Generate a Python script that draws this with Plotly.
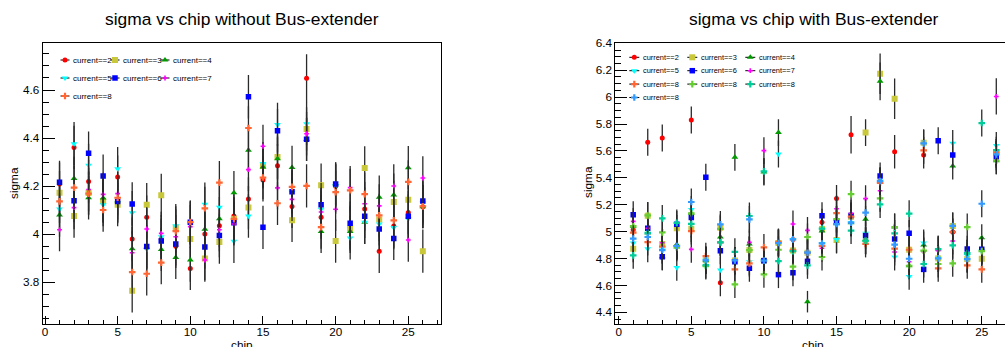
import plotly.graph_objects as go

W, H = 1005, 347
chips = list(range(1, 27))

# ---------------- left panel: without Bus-extender ----------------
left_c2 = [4.209, 4.361, 4.220, 4.140, 4.238, 3.980, 4.071, 3.980, 3.950, 3.858, 4.001, 4.036, 4.076,
           4.147, 4.226, 4.285, 4.116, 4.649, 4.071, 4.200, 4.030, 4.105, 3.929, 4.034, 4.091, 4.115]
left_c3 = [4.173, 4.076, 4.172, 4.138, 4.123, 3.765, 4.123, 4.162, 4.027, 3.980, 3.899, 3.968, 4.064,
           4.111, 4.284, 4.321, 4.058, 4.438, 4.204, 3.972, 4.023, 4.276, 4.062, 4.134, 4.144, 3.930]
left_c4 = [4.080, 4.232, 4.152, 4.151, 4.140, 3.940, 3.945, 3.937, 3.904, 3.893, 4.021, 4.065, 4.173,
           4.349, 4.280, 4.314, 4.278, 4.395, 4.012, 4.210, 4.012, 4.050, 4.154, 4.163, 4.277, 4.115]
left_c5 = [4.105, 4.377, 4.287, 4.123, 4.273, 4.090, 3.939, 3.990, 4.036, 4.045, 4.125, 4.112, 3.971,
           4.076, 4.294, 4.457, 4.175, 4.460, 4.104, 4.202, 3.985, 4.050, 4.043, 4.028, 4.064, 4.130]
left_c6 = [4.216, 4.140, 4.337, 4.242, 4.136, 4.126, 3.949, 3.972, 3.960, 4.050, 3.947, 3.995, 4.048,
           4.572, 4.029, 4.431, 4.177, 4.395, 4.123, 4.209, 4.046, 4.075, 4.022, 3.983, 4.075, 4.138]
left_c7 = [4.019, 4.111, 4.186, 4.166, 4.169, 3.923, 4.022, 4.004, 3.990, 4.032, 3.893, 4.019, 4.043,
           4.269, 4.366, 4.193, 4.145, 4.418, 4.093, 4.104, 4.194, 4.127, 4.118, 4.201, 3.976, 4.234]
left_c8 = [4.137, 4.194, 4.169, 4.101, 4.152, 3.843, 3.836, 3.882, 4.013, 4.051, 4.108, 4.215, 4.064,
           4.442, 4.236, 4.129, 4.197, 4.201, 4.030, 4.175, 4.183, 4.167, 4.079, 4.058, 4.218, 4.116]
left_err = 0.09
left_err_override = {("c2", 18): 0.10}

# ---------------- right panel: with Bus-extender ----------------
right_c2 = [5.013, 5.664, 5.696, 4.893, 5.830, 4.787, 4.620, 4.786, 4.863, 4.784, 4.915, 4.942, 4.843,
            5.069, 5.247, 5.720, 4.932, 5.376, 5.594, 4.865, 5.569, 4.801, 4.997, 4.796, 4.868, 5.574]
right_c3 = [4.872, 5.118, 4.907, 5.024, 5.022, 4.787, 5.029, 4.786, 4.863, 4.784, 4.915, 4.860, 4.843,
            5.020, 4.937, 5.111, 5.736, 6.174, 5.988, 4.865, 5.661, 4.801, 5.042, 4.796, 4.798, 5.589]
right_c4 = [5.040, 4.990, 4.813, 4.904, 5.136, 4.787, 4.960, 5.552, 4.908, 5.443, 5.736, 4.860, 4.479,
            5.005, 5.093, 5.066, 5.091, 6.117, 5.034, 4.746, 4.900, 4.870, 5.488, 4.838, 4.955, 5.527]
right_c5 = [4.916, 4.873, 4.863, 4.734, 5.165, 4.787, 4.714, 4.786, 4.776, 4.784, 5.577, 4.942, 4.845,
            4.912, 4.942, 5.066, 4.987, 5.376, 4.811, 4.667, 4.915, 4.801, 5.656, 4.820, 4.855, 5.641]
right_c6 = [5.125, 5.024, 4.813, 5.054, 5.104, 5.404, 4.858, 4.776, 4.727, 4.784, 4.680, 4.694, 4.779,
            5.118, 5.070, 5.120, 4.970, 5.413, 4.945, 4.987, 4.719, 5.676, 5.569, 4.870, 4.868, 5.557]
right_c7 = [5.076, 5.025, 4.917, 4.893, 4.868, 4.787, 4.920, 4.786, 4.920, 5.602, 4.915, 5.056, 5.009,
            4.876, 5.170, 5.136, 5.245, 5.304, 4.848, 4.776, 4.850, 4.858, 4.930, 4.840, 4.855, 6.005]
right_c8a = [4.993, 4.922, 4.888, 4.893, 5.004, 4.818, 4.920, 4.719, 4.764, 4.883, 4.923, 4.863, 4.843,
             4.893, 5.138, 5.111, 4.908, 5.363, 4.873, 4.865, 5.604, 4.727, 4.997, 4.749, 4.719, 5.589]
right_c8b = [5.040, 5.120, 4.994, 4.880, 5.136, 4.744, 5.020, 4.607, 4.863, 4.682, 4.865, 4.739, 4.960,
             4.811, 5.093, 5.279, 4.932, 5.247, 5.034, 4.746, 4.858, 4.759, 4.764, 5.034, 4.855, 5.527]
right_c8c = [4.823, 4.990, 5.098, 5.065, 5.057, 4.751, 4.920, 4.850, 5.116, 5.448, 4.781, 4.855, 4.749,
             5.022, 5.056, 5.007, 4.932, 5.202, 4.987, 5.133, 4.759, 4.870, 4.898, 4.840, 5.807, 5.606]
right_c8d = [4.948, 4.960, 4.863, 4.893, 5.220, 4.787, 5.054, 4.786, 5.091, 4.784, 4.915, 4.942, 4.843,
             4.912, 5.056, 5.066, 5.141, 5.376, 4.903, 4.798, 5.656, 4.801, 5.042, 4.796, 5.207, 5.574]
right_err = 0.10
right_err_override = {("c2", 16): 0.14, ("c2", 19): 0.125, ("c3", 18): 0.15, ("c3", 19): 0.15,
                      ("c4", 18): 0.14, ("c4", 13): 0.08, ("c7", 26): 0.135}

labels_left = ["current==2", "current==3", "current==4", "current==5", "current==6", "current==7",
               "current==8"]
labels_right = ["current==2", "current==3", "current==4", "current==5", "current==6", "current==7",
                "current==8", "current==8", "current==8", "current==8"]

STY = {
    "c2": dict(symbol="circle", color="#ff0000", size=5),
    "c3": dict(symbol="square", color="#c8c83a", size=6),
    "c4": dict(symbol="triangle-up", color="#009900", size=6),
    "c5": dict(symbol="triangle-down", color="#00ffff", size=6),
    "c6": dict(symbol="square", color="#0000ff", size=5.5),
    "c7": dict(symbol="cross", color="#ff00ff", size=4),
    "c8a": dict(symbol="cross", color="#ff6633", size=5.5),
    "c8b": dict(symbol="cross", color="#66cc33", size=5.5),
    "c8c": dict(symbol="cross", color="#00cc99", size=5.5),
    "c8d": dict(symbol="cross", color="#3399ff", size=5.5),
}

left_series = [("c2", left_c2), ("c3", left_c3), ("c4", left_c4), ("c5", left_c5),
               ("c6", left_c6), ("c7", left_c7), ("c8a", left_c8)]
right_series = [("c2", right_c2), ("c3", right_c3), ("c4", right_c4), ("c5", right_c5),
                ("c6", right_c6), ("c7", right_c7), ("c8a", right_c8a), ("c8b", right_c8b),
                ("c8c", right_c8c), ("c8d", right_c8d)]

FONT = "Liberation Sans, Arial, Helvetica, sans-serif"
fig = go.Figure()


def add_panel(series, xa, ya, base_err, override):
    for key, vals in series:
        errs = [override.get((key, c), base_err) for c in chips]
        st = STY[key]
        fig.add_trace(go.Scatter(
            x=chips, y=vals, mode="markers", xaxis=xa, yaxis=ya, showlegend=False,
            marker=dict(symbol=st["symbol"], color=st["color"], size=st["size"],
                        line=dict(width=0)),
            error_y=dict(type="data", array=errs, visible=True, width=0,
                         color="#2a2a2a", thickness=1.3),
            hoverinfo="x+y"))


add_panel(left_series, "x", "y", left_err, left_err_override)
add_panel(right_series, "x2", "y2", right_err, right_err_override)

annotations = []


def add_legend(series, labels, x0, dx, y0, dy, seg, toff, fsize):
    for i, ((key, _), lab) in enumerate(zip(series, labels)):
        col, row = i % 3, i // 3
        lx, ly = x0 + col * dx, y0 + row * dy
        st = STY[key]
        fig.add_trace(go.Scatter(
            x=[lx], y=[ly], mode="markers", xaxis="x3", yaxis="y3", showlegend=False,
            hoverinfo="skip", cliponaxis=False,
            marker=dict(symbol=st["symbol"], color=st["color"], size=st["size"],
                        line=dict(width=0)),
            error_x=dict(type="constant", value=seg, width=0, color="#000000", thickness=1)))
        annotations.append(dict(x=lx + toff, y=ly, xref="x3", yref="y3", text=lab,
                                showarrow=False, xanchor="left", yanchor="middle",
                                font=dict(family=FONT, size=fsize, color="#000000")))


add_legend(left_series, labels_left, 65, 50, 60, 18, 4.5, 6.0, 8)
add_legend(right_series, labels_right, 634.3, 58, 57.3, 13.4, 5, 6.8, 7.4)


def px(p):
    return p / W


def py(p):
    return 1 - p / H


ydom = [py(324), py(42.5)]
tickfont = dict(family=FONT, size=11.7, color="#000000")
common_x = dict(showline=True, linecolor="#000000", linewidth=1, ticks="inside",
                tickcolor="#000000", tickwidth=1, ticklen=8.5, tick0=0, dtick=5,
                minor=dict(ticks="inside", dtick=1, ticklen=4.3, tickcolor="#000000", tickwidth=1),
                showgrid=False, zeroline=False, tickfont=tickfont, automargin=False,
                ticklabelstandoff=-3)
common_y = dict(showline=True, linecolor="#000000", linewidth=1, ticks="inside",
                tickcolor="#000000", tickwidth=1, ticklen=12, tick0=0, dtick=0.2,
                minor=dict(ticks="inside", dtick=0.05, ticklen=6, tickcolor="#000000", tickwidth=1),
                showgrid=False, zeroline=False, tickfont=tickfont, automargin=False)

fig.update_layout(
    width=W, height=H, margin=dict(l=0, r=0, t=0, b=0, autoexpand=False),
    paper_bgcolor="#ffffff", plot_bgcolor="rgba(0,0,0,0)",
    font=dict(family=FONT, color="#000000"),
    showlegend=False,
    xaxis=dict(domain=[px(42.7), px(441)], range=[-0.158, 27.25], anchor="y", mirror=True,
               **common_x),
    yaxis=dict(domain=ydom, range=[3.627, 4.7975], anchor="x", mirror=True, **common_y),
    xaxis2=dict(domain=[px(615.3), 1.0], range=[-0.234, 26.6], anchor="y2", mirror=True,
                **common_x),
    yaxis2=dict(domain=ydom, range=[4.313, 6.406], anchor="x2", mirror=False, **common_y),
    xaxis3=dict(domain=[0, 1], range=[0, W], visible=False, anchor="y3", fixedrange=True,
                automargin=False),
    yaxis3=dict(domain=[0, 1], range=[H, 0], visible=False, anchor="x3", fixedrange=True,
                automargin=False),
)

title_font = dict(family=FONT, size=17.4, color="#000000")
axis_font = dict(family=FONT, size=11.8, color="#000000")
annotations += [
    dict(x=px(242), y=py(19), xref="paper", yref="paper", text="sigma vs chip without Bus-extender",
         showarrow=False, xanchor="center", yanchor="middle", font=title_font),
    dict(x=px(814), y=py(19), xref="paper", yref="paper", text="sigma vs chip with Bus-extender",
         showarrow=False, xanchor="center", yanchor="middle", font=title_font),
    dict(x=px(242), y=py(344.5), xref="paper", yref="paper", text="chip",
         showarrow=False, xanchor="center", yanchor="middle", font=axis_font),
    dict(x=px(813), y=py(344.5), xref="paper", yref="paper", text="chip",
         showarrow=False, xanchor="center", yanchor="middle", font=axis_font),
    dict(x=px(14), y=py(183), xref="paper", yref="paper", text="sigma", textangle=-90,
         showarrow=False, xanchor="center", yanchor="middle", font=axis_font),
    dict(x=px(587.5), y=py(182.5), xref="paper", yref="paper", text="sigma", textangle=-90,
         showarrow=False, xanchor="center", yanchor="middle", font=axis_font),
]
fig.update_layout(annotations=annotations)

fig.write_html("out.html",
               config={"displayModeBar": False, "staticPlot": True},
               post_script="document.body.style.margin='0px';"
                           "document.body.style.overflow='hidden';")
